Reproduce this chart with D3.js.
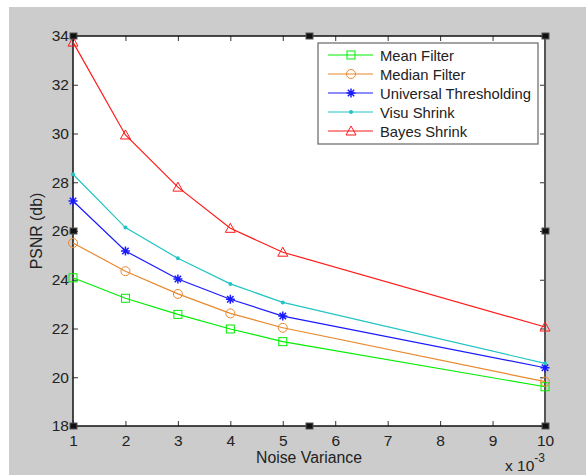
<!DOCTYPE html>
<html>
<head>
<meta charset="utf-8">
<script src="https://cdn.jsdelivr.net/npm/d3@7"></script>
<style>
  body { margin: 0; background: #fff; }
  text { font-family: "Liberation Sans", Arial, sans-serif; fill: #222; }
</style>
</head>
<body>
<div id="chart"></div>
<script>
const noiseVariance = [1, 2, 3, 4, 5, 10];
const meanFilter = [24.08, 23.24, 22.58, 21.98, 21.46, 19.61];
const medianFilter = [25.51, 24.35, 23.42, 22.62, 22.03, 19.82];
const universalThresh = [27.23, 25.18, 24.03, 23.2, 22.51, 20.39];
const visuShrink = [28.33, 26.14, 24.88, 23.83, 23.07, 20.57];
const bayesShrink = [33.75, 29.94, 27.8, 26.11, 25.13, 22.06];
const seriesNames = ['Mean Filter', 'Median Filter', 'Universal Thresholding', 'Visu Shrink', 'Bayes Shrink'];
const xTicks = [1, 2, 3, 4, 5, 6, 7, 8, 9, 10];
const yTicks = [18, 20, 22, 24, 26, 28, 30, 32, 34];

const series = [
  { name: seriesNames[0], values: meanFilter, color: '#00ee00', marker: 'square' },
  { name: seriesNames[1], values: medianFilter, color: '#e8882c', marker: 'circle' },
  { name: seriesNames[2], values: universalThresh, color: '#1a1aff', marker: 'star' },
  { name: seriesNames[3], values: visuShrink, color: '#22c4c4', marker: 'dot' },
  { name: seriesNames[4], values: bayesShrink, color: '#ff1a1a', marker: 'triangle' }
];

const width = 586;
const height = 475;
const margin = { top: 36, right: 41, bottom: 49, left: 73 };
const innerW = width - margin.left - margin.right;
const innerH = height - margin.top - margin.bottom;

const svg = d3.select('#chart').append('svg')
  .attr('width', width)
  .attr('height', height);

// figure background
svg.append('rect')
  .attr('x', 9).attr('y', 7)
  .attr('width', width - 9).attr('height', height - 7)
  .attr('fill', '#cccccc');

const g = svg.append('g')
  .attr('transform', `translate(${margin.left},${margin.top})`);

g.append('rect')
  .attr('width', innerW).attr('height', innerH)
  .attr('fill', '#fff');

const xScale = d3.scaleLinear().domain([1, 10]).range([0, innerW]);
const yScale = d3.scaleLinear().domain([18, 34]).range([innerH, 0]);

// axes with inward ticks
const tick = 5;
g.append('g')
  .attr('transform', `translate(0,${innerH})`)
  .call(d3.axisBottom(xScale).tickValues(xTicks).tickSize(-tick).tickPadding(9).tickFormat(d3.format('d')))
  .call(a => a.select('.domain').remove());
g.append('g')
  .call(d3.axisTop(xScale).tickValues(xTicks).tickSize(-tick).tickFormat(''))
  .call(a => a.select('.domain').remove());
g.append('g')
  .call(d3.axisLeft(yScale).tickValues(yTicks).tickSize(-tick).tickPadding(4).tickFormat(d3.format('d')))
  .call(a => a.select('.domain').remove());
g.append('g')
  .attr('transform', `translate(${innerW},0)`)
  .call(d3.axisRight(yScale).tickValues(yTicks).tickSize(-tick).tickFormat(''))
  .call(a => a.select('.domain').remove());

g.selectAll('.tick line').attr('stroke', '#333');
g.selectAll('.tick text').attr('font-size', 15.5).attr('fill', '#222')
  .attr('font-family', '"Liberation Sans", Arial, sans-serif');

// box
g.append('line').attr('x1', 0).attr('x2', innerW).attr('y1', 0).attr('y2', 0).attr('stroke', '#111').attr('stroke-width', 1.5);
g.append('line').attr('x1', 0).attr('x2', innerW).attr('y1', innerH).attr('y2', innerH).attr('stroke', '#111').attr('stroke-width', 1.5);
g.append('line').attr('x1', 0).attr('x2', 0).attr('y1', 0).attr('y2', innerH).attr('stroke', '#111').attr('stroke-width', 1.5);
g.append('line').attr('x1', innerW).attr('x2', innerW).attr('y1', 0).attr('y2', innerH).attr('stroke', '#555').attr('stroke-width', 2);

function drawMarker(sel, type, color) {
  if (type === 'square') {
    sel.append('rect').attr('x', -4).attr('y', -4).attr('width', 8).attr('height', 8)
      .attr('fill', 'none').attr('stroke', color);
  } else if (type === 'circle') {
    sel.append('circle').attr('r', 4.5).attr('fill', 'none').attr('stroke', color);
  } else if (type === 'star') {
    sel.append('path').attr('d', 'M-4.5,0H4.5M0,-4.5V4.5M-3.2,-3.2L3.2,3.2M-3.2,3.2L3.2,-3.2')
      .attr('stroke', color).attr('stroke-width', 1.5);
  } else if (type === 'dot') {
    sel.append('circle').attr('r', 2).attr('fill', color);
  } else if (type === 'triangle') {
    sel.append('path').attr('d', 'M0,-5L5,4H-5Z').attr('fill', 'none').attr('stroke', color);
  }
}

const line = d3.line()
  .x((d, i) => xScale(noiseVariance[i]))
  .y(d => yScale(d));

series.forEach(s => {
  const sg = g.append('g');
  sg.append('path').datum(s.values)
    .attr('d', line)
    .attr('fill', 'none')
    .attr('stroke', s.color)
    .attr('stroke-width', 1.2);
  s.values.forEach((v, i) => {
    const m = sg.append('g').attr('transform', `translate(${xScale(noiseVariance[i])},${yScale(v)})`);
    drawMarker(m, s.marker, s.color);
  });
});

// legend
const legend = g.append('g').attr('transform', `translate(${318 - margin.left},${43 - margin.top})`);
legend.append('rect').attr('width', 220).attr('height', 101)
  .attr('fill', '#fff').attr('stroke', '#666').attr('stroke-width', 1.2);
series.forEach((s, i) => {
  const row = legend.append('g').attr('transform', `translate(0,${12 + i * 19})`);
  row.append('line').attr('x1', 10).attr('x2', 55).attr('stroke', s.color).attr('stroke-width', 1.2);
  drawMarker(row.append('g').attr('transform', 'translate(33,0)'), s.marker, s.color);
  row.append('text').attr('x', 62).attr('y', 5.5).attr('font-size', 14.8).text(s.name);
});

// labels
svg.append('text')
  .attr('x', margin.left + innerW / 2).attr('y', 463)
  .attr('text-anchor', 'middle').attr('font-size', 15.8)
  .text('Noise Variance');
svg.append('text')
  .attr('transform', `translate(42,${margin.top + innerH / 2}) rotate(-90)`)
  .attr('text-anchor', 'middle').attr('font-size', 15.8)
  .text('PSNR (db)');
const exp = svg.append('text').attr('x', 505).attr('y', 471).attr('font-size', 15.5);
exp.append('tspan').text('x 10');
exp.append('tspan').attr('dy', -9).attr('font-size', 12).text('-3');

// selection handles on the axes
const handles = [[0, 0], [innerW / 2, 0], [innerW, 0], [0, innerH / 2], [innerW, innerH / 2], [0, innerH], [innerW / 2, innerH], [innerW, innerH]];
g.selectAll('.handle').data(handles).enter().append('rect')
  .attr('class', 'handle')
  .attr('x', d => d[0] - 3).attr('y', d => d[1] - 3)
  .attr('width', 7).attr('height', 6)
  .attr('fill', '#111').attr('stroke', '#555').attr('stroke-width', 1);
</script>
</body>
</html>
